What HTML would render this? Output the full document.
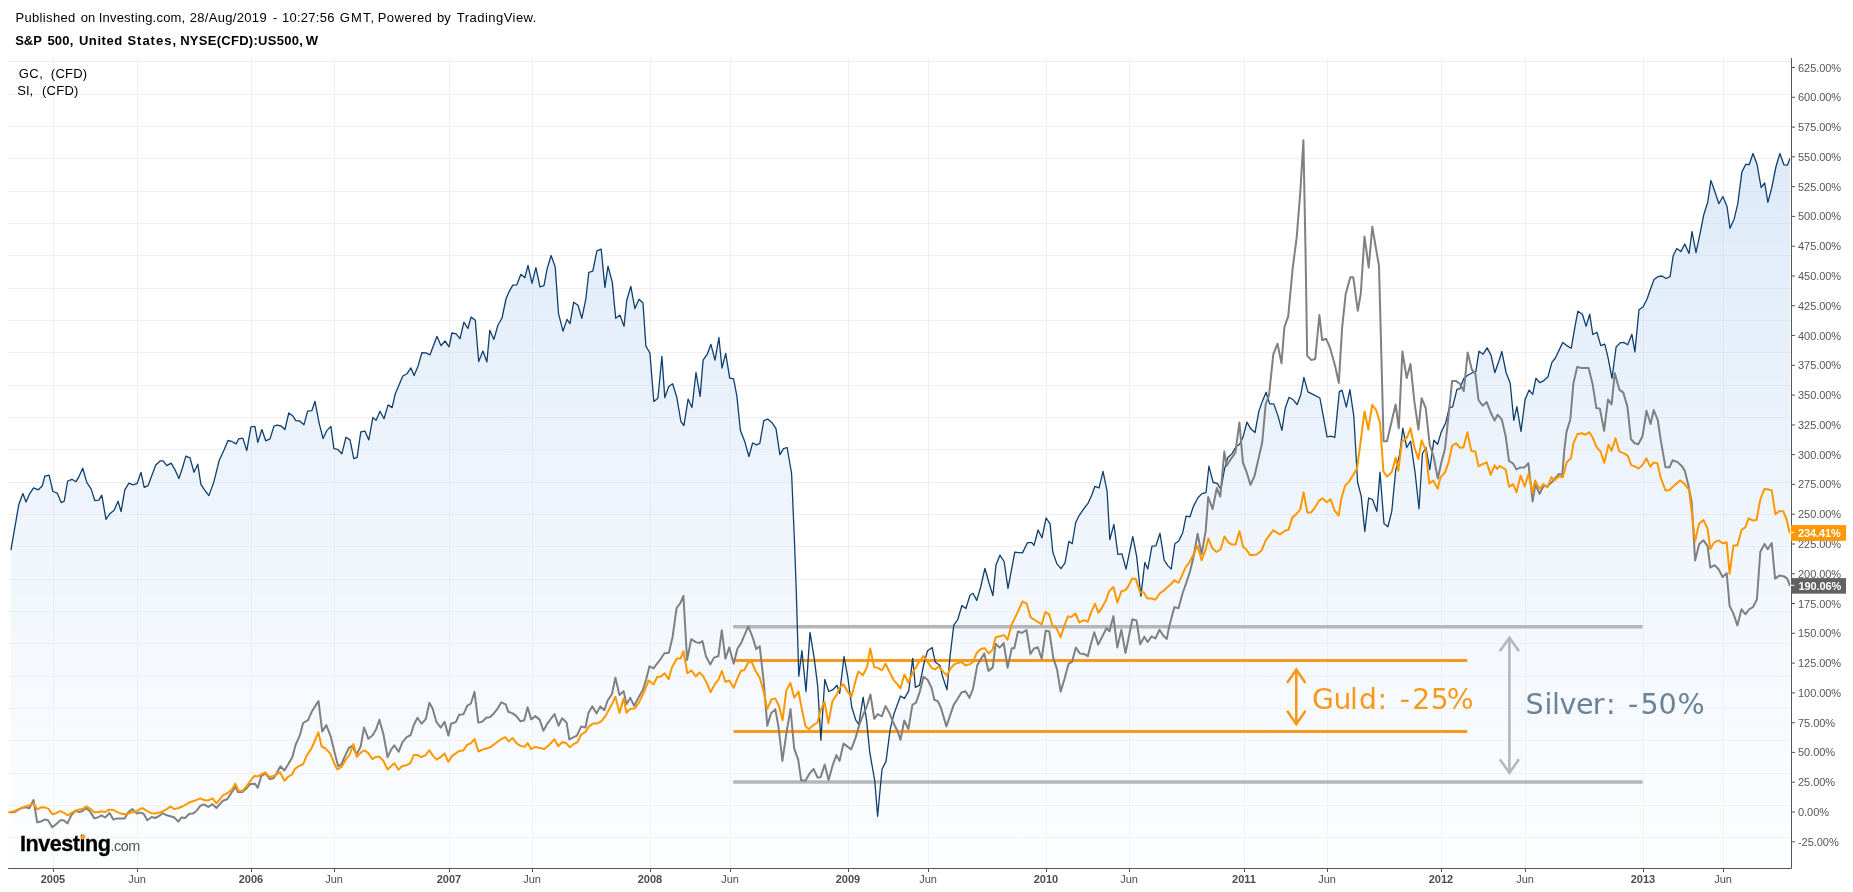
<!DOCTYPE html>
<html><head><meta charset="utf-8"><title>S&amp;P 500 vs Gold vs Silver</title>
<style>
html,body{margin:0;padding:0;background:#fff;}
body{width:1853px;height:892px;position:relative;overflow:hidden;font-family:"Liberation Sans",Arial,sans-serif;}
#wrap{position:absolute;left:0;top:0;width:1853px;height:892px;will-change:transform;}
.h1,.h2{position:absolute;white-space:pre;color:#000;font-size:13px;}
.h1 span,.h2 span{display:inline-block;white-space:pre;overflow:visible;}
.h1{top:10.1px;left:15.50px;}
.h2{top:33.1px;left:15.20px;font-weight:bold;}
.leg{position:absolute;font-size:13px;color:#000;white-space:pre;}
.logo{position:absolute;left:20.1px;top:832.2px;white-space:pre;line-height:24px;}
.logo b{font-size:21.6px;font-weight:bold;color:#000;letter-spacing:-0.5px;-webkit-text-stroke:0.3px #000;}
.logo i{font-style:normal;font-size:14.5px;color:#555;letter-spacing:-0.5px;}
</style></head><body><div id="wrap">
<div class="h1"><span style="width:65.30px;letter-spacing:0.33px">Published </span><span style="width:17.90px;letter-spacing:0px">on </span><span style="width:91.00px;letter-spacing:0.21px">Investing.com, </span><span style="width:83.30px;letter-spacing:0.32px">28/Aug/2019 </span><span style="width:9.10px;letter-spacing:0px">- </span><span style="width:57.70px;letter-spacing:0.24px">10:27:56 </span><span style="width:37.90px;letter-spacing:1.1px">GMT, </span><span style="width:59.30px;letter-spacing:0.48px">Powered </span><span style="width:19.90px;letter-spacing:0px">by </span><span style="letter-spacing:0.46px">TradingView.</span></div>
<div class="h2"><span style="width:32.20px;letter-spacing:0px">S&amp;P </span><span style="width:31.50px;letter-spacing:0.25px">500, </span><span style="width:48.50px;letter-spacing:0.6px">United </span><span style="width:52.80px;letter-spacing:1.0px">States, </span><span style="width:125.70px;letter-spacing:0.28px">NYSE(CFD):US500, </span><span style="letter-spacing:0.5px">W</span></div>
<svg width="1853" height="892" viewBox="0 0 1853 892" style="position:absolute;left:0;top:0"><defs><linearGradient id="fg" x1="0" y1="58" x2="0" y2="868" gradientUnits="userSpaceOnUse"><stop offset="0" stop-color="#005fcd" stop-opacity="0.15"/><stop offset="0.607" stop-color="#005fcd" stop-opacity="0.056"/><stop offset="1" stop-color="#005fcd" stop-opacity="0.01"/></linearGradient><clipPath id="pane"><rect x="8" y="58" width="1782" height="810"/></clipPath></defs><path d="M8 61.5H1790.5 M8 94.5H1790.5 M8 126.5H1790.5 M8 158.5H1790.5 M8 191.5H1790.5 M8 223.5H1790.5 M8 255.5H1790.5 M8 288.5H1790.5 M8 320.5H1790.5 M8 352.5H1790.5 M8 385.5H1790.5 M8 417.5H1790.5 M8 449.5H1790.5 M8 482.5H1790.5 M8 514.5H1790.5 M8 546.5H1790.5 M8 579.5H1790.5 M8 611.5H1790.5 M8 643.5H1790.5 M8 676.5H1790.5 M8 708.5H1790.5 M8 740.5H1790.5 M8 773.5H1790.5 M8 805.5H1790.5 M8 837.5H1790.5 M53.5 58V868.5 M137.5 58V868.5 M251.5 58V868.5 M334.5 58V868.5 M449.5 58V868.5 M532.5 58V868.5 M650.5 58V868.5 M730.5 58V868.5 M848.5 58V868.5 M928.5 58V868.5 M1046.5 58V868.5 M1129.5 58V868.5 M1244.5 58V868.5 M1327.5 58V868.5 M1441.5 58V868.5 M1525.5 58V868.5 M1643.5 58V868.5 M1723.5 58V868.5" stroke="#efefef" stroke-width="1" fill="none" shape-rendering="crispEdges"/><polygon points="11.0,868.5 11.0,549.6 18.8,504.6 22.9,493.5 26.0,501.9 29.6,493.8 33.6,487.8 38.3,489.8 42.4,485.7 44.8,476.1 49.1,475.2 52.9,491.5 57.2,493.1 61.2,502.6 64.2,501.2 67.7,481.0 72.0,479.3 76.0,481.7 78.4,477.7 82.7,468.3 86.8,482.4 91.2,489.1 94.8,500.5 98.9,500.1 101.8,495.2 106.0,519.4 109.6,514.0 114.1,510.2 118.0,501.2 121.1,511.6 124.8,489.8 128.9,483.1 133.2,484.8 137.2,483.3 141.0,472.3 144.2,487.4 148.0,485.7 152.0,475.0 155.8,464.9 160.1,460.9 163.1,460.9 166.8,465.6 171.1,463.1 174.9,469.6 178.9,478.6 182.3,468.3 185.9,456.1 190.0,457.9 194.0,472.3 197.8,464.2 200.9,484.4 204.5,489.8 208.9,495.6 213.9,481.7 219.3,460.2 224.0,450.1 228.0,440.5 231.4,441.3 236.1,443.9 238.7,438.8 242.8,438.1 246.8,450.6 250.9,426.8 254.9,426.4 257.8,442.3 261.9,429.5 265.7,440.8 270.0,438.9 274.0,426.0 277.1,425.1 281.1,426.0 284.9,429.5 288.8,413.0 292.6,415.7 295.9,420.6 299.7,421.0 304.0,424.7 307.6,411.2 311.8,410.7 315.0,401.3 319.1,423.1 323.1,438.5 326.6,430.9 330.9,426.4 333.9,448.6 337.6,449.3 341.9,453.7 346.0,437.2 350.0,439.9 353.8,458.7 357.1,457.4 360.8,431.8 364.9,431.1 368.8,439.9 372.9,417.4 376.0,420.4 380.0,411.2 384.0,418.7 388.1,404.9 392.1,407.6 395.2,394.1 402.8,376.0 407.1,373.7 410.9,367.9 414.1,375.6 418.1,365.9 421.9,352.7 425.9,352.9 430.0,354.8 437.0,336.3 441.0,345.7 445.0,341.0 449.1,346.8 451.9,333.0 456.2,333.9 460.0,338.7 463.9,322.2 467.9,328.5 471.0,317.1 475.3,320.2 478.7,361.5 482.9,351.1 486.9,361.9 489.8,330.3 493.9,339.4 497.9,325.2 502.0,318.0 506.1,298.5 509.4,291.1 512.8,285.1 516.8,284.8 520.9,274.3 524.9,277.7 528.0,265.3 532.0,283.3 535.9,267.6 540.0,286.8 544.0,285.7 547.1,268.9 551.1,255.5 555.2,266.9 558.5,313.3 563.0,331.2 567.0,319.4 570.0,323.7 573.7,302.2 578.0,305.3 581.8,318.3 585.8,299.2 588.8,272.3 592.8,271.2 596.9,250.8 601.2,249.1 604.9,287.4 608.0,266.2 612.3,282.4 615.7,318.3 620.0,315.1 624.0,326.4 626.7,300.5 630.8,286.4 634.9,308.6 639.0,299.2 643.0,303.0 645.9,346.1 649.9,353.0 653.8,401.4 657.9,398.2 661.9,356.5 664.8,397.6 668.7,386.5 672.6,383.8 676.8,397.3 680.9,421.5 683.9,425.6 688.1,399.1 692.0,407.5 696.0,372.5 700.1,396.4 703.1,360.1 707.3,354.2 710.9,344.3 715.0,360.1 718.9,337.5 722.0,368.0 725.7,353.3 729.7,378.1 733.6,378.8 736.9,396.4 740.4,430.4 744.9,442.1 748.9,456.5 752.6,443.0 756.6,444.8 759.8,443.4 763.8,420.6 767.7,419.1 771.8,422.4 776.0,428.7 779.9,454.7 783.5,448.7 787.1,447.5 791.6,473.5 794.6,544.7 796.2,589.1 798.8,676.2 801.9,650.6 806.0,691.5 810.0,632.3 814.1,657.4 817.7,686.1 820.9,740.3 824.8,679.5 828.8,691.5 832.9,689.7 837.0,685.2 839.7,693.3 844.0,656.5 847.8,677.1 851.8,707.3 855.7,719.8 858.8,724.5 863.1,697.1 866.7,721.4 869.8,752.7 874.8,781.0 877.6,816.3 882.0,769.2 886.0,761.4 890.2,729.2 894.1,713.5 900.5,696.0 904.5,698.4 908.8,690.6 912.7,658.3 915.4,687.4 919.6,685.2 923.5,665.5 927.4,651.1 932.1,647.5 935.2,661.9 940.0,665.5 942.5,676.3 947.0,689.8 950.2,654.8 953.8,625.2 957.8,619.5 961.9,605.5 965.9,608.5 970.0,595.2 973.0,593.3 976.8,600.4 980.7,587.0 984.9,568.3 988.8,582.2 992.9,595.6 996.0,565.1 999.9,555.2 1004.1,561.5 1008.0,588.4 1014.8,552.2 1022.5,552.9 1027.4,542.7 1031.9,542.7 1034.0,545.4 1038.1,530.0 1042.0,537.8 1046.1,518.0 1050.1,523.9 1052.8,552.1 1056.9,563.8 1061.0,568.6 1065.0,562.9 1068.9,541.3 1072.2,543.7 1075.7,522.5 1079.3,515.3 1083.5,509.1 1088.3,502.8 1091.9,494.7 1094.9,486.3 1099.1,487.9 1103.0,471.4 1107.1,491.1 1109.8,539.6 1113.9,524.3 1117.9,554.4 1122.0,553.9 1126.0,569.1 1132.8,536.5 1136.7,556.6 1140.9,596.1 1144.8,562.5 1147.8,569.1 1152.0,546.2 1155.9,545.8 1160.0,533.3 1164.2,560.2 1167.8,565.6 1171.2,569.1 1174.9,543.7 1178.9,540.8 1182.8,532.4 1186.1,516.2 1190.0,516.8 1193.1,507.1 1197.9,497.8 1202.0,493.6 1206.0,492.7 1208.9,466.2 1213.2,482.5 1217.3,483.4 1220.9,489.5 1224.5,469.1 1227.7,457.8 1232.0,453.6 1236.1,446.5 1239.7,444.3 1243.3,436.2 1246.9,422.2 1251.0,429.1 1255.0,432.6 1258.9,411.1 1262.5,400.9 1266.1,392.3 1269.7,403.9 1273.8,403.9 1277.9,415.6 1281.9,430.3 1285.1,408.8 1289.0,397.3 1293.2,399.8 1297.1,404.5 1300.7,395.0 1303.9,377.4 1307.9,391.9 1312.4,394.1 1319.9,398.0 1323.5,417.4 1327.1,436.8 1331.2,436.2 1334.8,437.5 1339.3,391.9 1342.0,390.1 1346.3,407.1 1349.9,389.6 1353.8,416.1 1357.6,482.0 1361.2,496.1 1364.8,531.5 1368.6,498.0 1372.7,499.7 1376.9,511.5 1380.0,472.1 1384.0,523.6 1387.9,526.8 1391.8,511.1 1395.7,470.2 1399.7,453.8 1402.8,428.2 1406.7,447.5 1410.6,441.2 1415.0,471.8 1419.0,508.7 1422.4,453.8 1426.0,447.5 1429.8,469.5 1433.9,440.1 1437.6,444.3 1441.3,431.9 1445.5,423.3 1449.4,407.5 1452.6,406.8 1457.0,389.2 1459.8,388.8 1463.8,378.4 1467.7,375.2 1471.8,373.0 1475.8,371.6 1479.0,351.2 1483.1,354.2 1487.1,347.9 1491.0,355.1 1494.8,372.7 1500.0,357.8 1501.8,351.3 1506.1,372.5 1510.2,383.3 1513.8,420.4 1516.9,406.6 1521.0,431.3 1525.1,399.4 1529.1,390.1 1532.7,394.4 1535.9,378.3 1539.8,382.7 1543.8,380.6 1547.9,377.0 1552.0,362.1 1555.1,358.5 1562.8,342.4 1566.7,345.6 1571.2,348.3 1574.8,327.7 1577.9,311.2 1582.4,314.2 1586.1,326.4 1589.7,314.2 1592.8,334.5 1596.9,332.2 1600.8,345.6 1604.8,344.2 1608.0,357.3 1612.0,378.3 1616.1,347.0 1620.2,342.9 1623.8,342.4 1627.7,344.7 1631.9,334.3 1634.9,351.9 1639.0,309.7 1643.0,307.0 1647.1,299.0 1649.9,290.7 1654.0,279.6 1657.9,276.7 1661.9,276.0 1666.0,278.5 1670.1,276.7 1673.2,255.7 1676.8,248.5 1680.9,251.6 1684.8,244.0 1689.0,253.4 1692.0,231.5 1696.0,252.6 1700.1,233.3 1703.7,215.0 1707.8,201.9 1710.9,180.4 1715.0,192.0 1718.9,203.7 1722.9,196.5 1727.0,206.4 1730.0,228.3 1734.2,218.9 1737.8,203.7 1741.9,171.9 1745.8,164.2 1749.1,164.8 1753.0,153.5 1757.0,164.2 1761.1,187.5 1764.7,183.0 1767.9,202.4 1771.8,187.5 1776.0,166.5 1779.9,153.5 1783.9,164.8 1787.4,165.1 1790.0,158.5 1790.0,868.5" fill="#fff" fill-opacity="0.4" clip-path="url(#pane)"/><polygon points="11.0,868.5 11.0,549.6 18.8,504.6 22.9,493.5 26.0,501.9 29.6,493.8 33.6,487.8 38.3,489.8 42.4,485.7 44.8,476.1 49.1,475.2 52.9,491.5 57.2,493.1 61.2,502.6 64.2,501.2 67.7,481.0 72.0,479.3 76.0,481.7 78.4,477.7 82.7,468.3 86.8,482.4 91.2,489.1 94.8,500.5 98.9,500.1 101.8,495.2 106.0,519.4 109.6,514.0 114.1,510.2 118.0,501.2 121.1,511.6 124.8,489.8 128.9,483.1 133.2,484.8 137.2,483.3 141.0,472.3 144.2,487.4 148.0,485.7 152.0,475.0 155.8,464.9 160.1,460.9 163.1,460.9 166.8,465.6 171.1,463.1 174.9,469.6 178.9,478.6 182.3,468.3 185.9,456.1 190.0,457.9 194.0,472.3 197.8,464.2 200.9,484.4 204.5,489.8 208.9,495.6 213.9,481.7 219.3,460.2 224.0,450.1 228.0,440.5 231.4,441.3 236.1,443.9 238.7,438.8 242.8,438.1 246.8,450.6 250.9,426.8 254.9,426.4 257.8,442.3 261.9,429.5 265.7,440.8 270.0,438.9 274.0,426.0 277.1,425.1 281.1,426.0 284.9,429.5 288.8,413.0 292.6,415.7 295.9,420.6 299.7,421.0 304.0,424.7 307.6,411.2 311.8,410.7 315.0,401.3 319.1,423.1 323.1,438.5 326.6,430.9 330.9,426.4 333.9,448.6 337.6,449.3 341.9,453.7 346.0,437.2 350.0,439.9 353.8,458.7 357.1,457.4 360.8,431.8 364.9,431.1 368.8,439.9 372.9,417.4 376.0,420.4 380.0,411.2 384.0,418.7 388.1,404.9 392.1,407.6 395.2,394.1 402.8,376.0 407.1,373.7 410.9,367.9 414.1,375.6 418.1,365.9 421.9,352.7 425.9,352.9 430.0,354.8 437.0,336.3 441.0,345.7 445.0,341.0 449.1,346.8 451.9,333.0 456.2,333.9 460.0,338.7 463.9,322.2 467.9,328.5 471.0,317.1 475.3,320.2 478.7,361.5 482.9,351.1 486.9,361.9 489.8,330.3 493.9,339.4 497.9,325.2 502.0,318.0 506.1,298.5 509.4,291.1 512.8,285.1 516.8,284.8 520.9,274.3 524.9,277.7 528.0,265.3 532.0,283.3 535.9,267.6 540.0,286.8 544.0,285.7 547.1,268.9 551.1,255.5 555.2,266.9 558.5,313.3 563.0,331.2 567.0,319.4 570.0,323.7 573.7,302.2 578.0,305.3 581.8,318.3 585.8,299.2 588.8,272.3 592.8,271.2 596.9,250.8 601.2,249.1 604.9,287.4 608.0,266.2 612.3,282.4 615.7,318.3 620.0,315.1 624.0,326.4 626.7,300.5 630.8,286.4 634.9,308.6 639.0,299.2 643.0,303.0 645.9,346.1 649.9,353.0 653.8,401.4 657.9,398.2 661.9,356.5 664.8,397.6 668.7,386.5 672.6,383.8 676.8,397.3 680.9,421.5 683.9,425.6 688.1,399.1 692.0,407.5 696.0,372.5 700.1,396.4 703.1,360.1 707.3,354.2 710.9,344.3 715.0,360.1 718.9,337.5 722.0,368.0 725.7,353.3 729.7,378.1 733.6,378.8 736.9,396.4 740.4,430.4 744.9,442.1 748.9,456.5 752.6,443.0 756.6,444.8 759.8,443.4 763.8,420.6 767.7,419.1 771.8,422.4 776.0,428.7 779.9,454.7 783.5,448.7 787.1,447.5 791.6,473.5 794.6,544.7 796.2,589.1 798.8,676.2 801.9,650.6 806.0,691.5 810.0,632.3 814.1,657.4 817.7,686.1 820.9,740.3 824.8,679.5 828.8,691.5 832.9,689.7 837.0,685.2 839.7,693.3 844.0,656.5 847.8,677.1 851.8,707.3 855.7,719.8 858.8,724.5 863.1,697.1 866.7,721.4 869.8,752.7 874.8,781.0 877.6,816.3 882.0,769.2 886.0,761.4 890.2,729.2 894.1,713.5 900.5,696.0 904.5,698.4 908.8,690.6 912.7,658.3 915.4,687.4 919.6,685.2 923.5,665.5 927.4,651.1 932.1,647.5 935.2,661.9 940.0,665.5 942.5,676.3 947.0,689.8 950.2,654.8 953.8,625.2 957.8,619.5 961.9,605.5 965.9,608.5 970.0,595.2 973.0,593.3 976.8,600.4 980.7,587.0 984.9,568.3 988.8,582.2 992.9,595.6 996.0,565.1 999.9,555.2 1004.1,561.5 1008.0,588.4 1014.8,552.2 1022.5,552.9 1027.4,542.7 1031.9,542.7 1034.0,545.4 1038.1,530.0 1042.0,537.8 1046.1,518.0 1050.1,523.9 1052.8,552.1 1056.9,563.8 1061.0,568.6 1065.0,562.9 1068.9,541.3 1072.2,543.7 1075.7,522.5 1079.3,515.3 1083.5,509.1 1088.3,502.8 1091.9,494.7 1094.9,486.3 1099.1,487.9 1103.0,471.4 1107.1,491.1 1109.8,539.6 1113.9,524.3 1117.9,554.4 1122.0,553.9 1126.0,569.1 1132.8,536.5 1136.7,556.6 1140.9,596.1 1144.8,562.5 1147.8,569.1 1152.0,546.2 1155.9,545.8 1160.0,533.3 1164.2,560.2 1167.8,565.6 1171.2,569.1 1174.9,543.7 1178.9,540.8 1182.8,532.4 1186.1,516.2 1190.0,516.8 1193.1,507.1 1197.9,497.8 1202.0,493.6 1206.0,492.7 1208.9,466.2 1213.2,482.5 1217.3,483.4 1220.9,489.5 1224.5,469.1 1227.7,457.8 1232.0,453.6 1236.1,446.5 1239.7,444.3 1243.3,436.2 1246.9,422.2 1251.0,429.1 1255.0,432.6 1258.9,411.1 1262.5,400.9 1266.1,392.3 1269.7,403.9 1273.8,403.9 1277.9,415.6 1281.9,430.3 1285.1,408.8 1289.0,397.3 1293.2,399.8 1297.1,404.5 1300.7,395.0 1303.9,377.4 1307.9,391.9 1312.4,394.1 1319.9,398.0 1323.5,417.4 1327.1,436.8 1331.2,436.2 1334.8,437.5 1339.3,391.9 1342.0,390.1 1346.3,407.1 1349.9,389.6 1353.8,416.1 1357.6,482.0 1361.2,496.1 1364.8,531.5 1368.6,498.0 1372.7,499.7 1376.9,511.5 1380.0,472.1 1384.0,523.6 1387.9,526.8 1391.8,511.1 1395.7,470.2 1399.7,453.8 1402.8,428.2 1406.7,447.5 1410.6,441.2 1415.0,471.8 1419.0,508.7 1422.4,453.8 1426.0,447.5 1429.8,469.5 1433.9,440.1 1437.6,444.3 1441.3,431.9 1445.5,423.3 1449.4,407.5 1452.6,406.8 1457.0,389.2 1459.8,388.8 1463.8,378.4 1467.7,375.2 1471.8,373.0 1475.8,371.6 1479.0,351.2 1483.1,354.2 1487.1,347.9 1491.0,355.1 1494.8,372.7 1500.0,357.8 1501.8,351.3 1506.1,372.5 1510.2,383.3 1513.8,420.4 1516.9,406.6 1521.0,431.3 1525.1,399.4 1529.1,390.1 1532.7,394.4 1535.9,378.3 1539.8,382.7 1543.8,380.6 1547.9,377.0 1552.0,362.1 1555.1,358.5 1562.8,342.4 1566.7,345.6 1571.2,348.3 1574.8,327.7 1577.9,311.2 1582.4,314.2 1586.1,326.4 1589.7,314.2 1592.8,334.5 1596.9,332.2 1600.8,345.6 1604.8,344.2 1608.0,357.3 1612.0,378.3 1616.1,347.0 1620.2,342.9 1623.8,342.4 1627.7,344.7 1631.9,334.3 1634.9,351.9 1639.0,309.7 1643.0,307.0 1647.1,299.0 1649.9,290.7 1654.0,279.6 1657.9,276.7 1661.9,276.0 1666.0,278.5 1670.1,276.7 1673.2,255.7 1676.8,248.5 1680.9,251.6 1684.8,244.0 1689.0,253.4 1692.0,231.5 1696.0,252.6 1700.1,233.3 1703.7,215.0 1707.8,201.9 1710.9,180.4 1715.0,192.0 1718.9,203.7 1722.9,196.5 1727.0,206.4 1730.0,228.3 1734.2,218.9 1737.8,203.7 1741.9,171.9 1745.8,164.2 1749.1,164.8 1753.0,153.5 1757.0,164.2 1761.1,187.5 1764.7,183.0 1767.9,202.4 1771.8,187.5 1776.0,166.5 1779.9,153.5 1783.9,164.8 1787.4,165.1 1790.0,158.5 1790.0,868.5" fill="url(#fg)" clip-path="url(#pane)"/><g stroke-width="3" stroke-linecap="butt"><line x1="733.2" y1="626.8" x2="1642.5" y2="626.8" stroke="#b3b6ba" stroke-width="3.5"/><line x1="733.2" y1="782.0" x2="1642.5" y2="782.0" stroke="#b3b6ba" stroke-width="3.5"/><line x1="733.6" y1="660.4" x2="1467.3" y2="660.4" stroke="#f7991c"/><line x1="733.6" y1="731.5" x2="1467.3" y2="731.5" stroke="#f7991c"/></g><g clip-path="url(#pane)" fill="none" stroke-linejoin="round" stroke-linecap="round"><polyline points="11.0,549.6 18.8,504.6 22.9,493.5 26.0,501.9 29.6,493.8 33.6,487.8 38.3,489.8 42.4,485.7 44.8,476.1 49.1,475.2 52.9,491.5 57.2,493.1 61.2,502.6 64.2,501.2 67.7,481.0 72.0,479.3 76.0,481.7 78.4,477.7 82.7,468.3 86.8,482.4 91.2,489.1 94.8,500.5 98.9,500.1 101.8,495.2 106.0,519.4 109.6,514.0 114.1,510.2 118.0,501.2 121.1,511.6 124.8,489.8 128.9,483.1 133.2,484.8 137.2,483.3 141.0,472.3 144.2,487.4 148.0,485.7 152.0,475.0 155.8,464.9 160.1,460.9 163.1,460.9 166.8,465.6 171.1,463.1 174.9,469.6 178.9,478.6 182.3,468.3 185.9,456.1 190.0,457.9 194.0,472.3 197.8,464.2 200.9,484.4 204.5,489.8 208.9,495.6 213.9,481.7 219.3,460.2 224.0,450.1 228.0,440.5 231.4,441.3 236.1,443.9 238.7,438.8 242.8,438.1 246.8,450.6 250.9,426.8 254.9,426.4 257.8,442.3 261.9,429.5 265.7,440.8 270.0,438.9 274.0,426.0 277.1,425.1 281.1,426.0 284.9,429.5 288.8,413.0 292.6,415.7 295.9,420.6 299.7,421.0 304.0,424.7 307.6,411.2 311.8,410.7 315.0,401.3 319.1,423.1 323.1,438.5 326.6,430.9 330.9,426.4 333.9,448.6 337.6,449.3 341.9,453.7 346.0,437.2 350.0,439.9 353.8,458.7 357.1,457.4 360.8,431.8 364.9,431.1 368.8,439.9 372.9,417.4 376.0,420.4 380.0,411.2 384.0,418.7 388.1,404.9 392.1,407.6 395.2,394.1 402.8,376.0 407.1,373.7 410.9,367.9 414.1,375.6 418.1,365.9 421.9,352.7 425.9,352.9 430.0,354.8 437.0,336.3 441.0,345.7 445.0,341.0 449.1,346.8 451.9,333.0 456.2,333.9 460.0,338.7 463.9,322.2 467.9,328.5 471.0,317.1 475.3,320.2 478.7,361.5 482.9,351.1 486.9,361.9 489.8,330.3 493.9,339.4 497.9,325.2 502.0,318.0 506.1,298.5 509.4,291.1 512.8,285.1 516.8,284.8 520.9,274.3 524.9,277.7 528.0,265.3 532.0,283.3 535.9,267.6 540.0,286.8 544.0,285.7 547.1,268.9 551.1,255.5 555.2,266.9 558.5,313.3 563.0,331.2 567.0,319.4 570.0,323.7 573.7,302.2 578.0,305.3 581.8,318.3 585.8,299.2 588.8,272.3 592.8,271.2 596.9,250.8 601.2,249.1 604.9,287.4 608.0,266.2 612.3,282.4 615.7,318.3 620.0,315.1 624.0,326.4 626.7,300.5 630.8,286.4 634.9,308.6 639.0,299.2 643.0,303.0 645.9,346.1 649.9,353.0 653.8,401.4 657.9,398.2 661.9,356.5 664.8,397.6 668.7,386.5 672.6,383.8 676.8,397.3 680.9,421.5 683.9,425.6 688.1,399.1 692.0,407.5 696.0,372.5 700.1,396.4 703.1,360.1 707.3,354.2 710.9,344.3 715.0,360.1 718.9,337.5 722.0,368.0 725.7,353.3 729.7,378.1 733.6,378.8 736.9,396.4 740.4,430.4 744.9,442.1 748.9,456.5 752.6,443.0 756.6,444.8 759.8,443.4 763.8,420.6 767.7,419.1 771.8,422.4 776.0,428.7 779.9,454.7 783.5,448.7 787.1,447.5 791.6,473.5 794.6,544.7 796.2,589.1 798.8,676.2 801.9,650.6 806.0,691.5 810.0,632.3 814.1,657.4 817.7,686.1 820.9,740.3 824.8,679.5 828.8,691.5 832.9,689.7 837.0,685.2 839.7,693.3 844.0,656.5 847.8,677.1 851.8,707.3 855.7,719.8 858.8,724.5 863.1,697.1 866.7,721.4 869.8,752.7 874.8,781.0 877.6,816.3 882.0,769.2 886.0,761.4 890.2,729.2 894.1,713.5 900.5,696.0 904.5,698.4 908.8,690.6 912.7,658.3 915.4,687.4 919.6,685.2 923.5,665.5 927.4,651.1 932.1,647.5 935.2,661.9 940.0,665.5 942.5,676.3 947.0,689.8 950.2,654.8 953.8,625.2 957.8,619.5 961.9,605.5 965.9,608.5 970.0,595.2 973.0,593.3 976.8,600.4 980.7,587.0 984.9,568.3 988.8,582.2 992.9,595.6 996.0,565.1 999.9,555.2 1004.1,561.5 1008.0,588.4 1014.8,552.2 1022.5,552.9 1027.4,542.7 1031.9,542.7 1034.0,545.4 1038.1,530.0 1042.0,537.8 1046.1,518.0 1050.1,523.9 1052.8,552.1 1056.9,563.8 1061.0,568.6 1065.0,562.9 1068.9,541.3 1072.2,543.7 1075.7,522.5 1079.3,515.3 1083.5,509.1 1088.3,502.8 1091.9,494.7 1094.9,486.3 1099.1,487.9 1103.0,471.4 1107.1,491.1 1109.8,539.6 1113.9,524.3 1117.9,554.4 1122.0,553.9 1126.0,569.1 1132.8,536.5 1136.7,556.6 1140.9,596.1 1144.8,562.5 1147.8,569.1 1152.0,546.2 1155.9,545.8 1160.0,533.3 1164.2,560.2 1167.8,565.6 1171.2,569.1 1174.9,543.7 1178.9,540.8 1182.8,532.4 1186.1,516.2 1190.0,516.8 1193.1,507.1 1197.9,497.8 1202.0,493.6 1206.0,492.7 1208.9,466.2 1213.2,482.5 1217.3,483.4 1220.9,489.5 1224.5,469.1 1227.7,457.8 1232.0,453.6 1236.1,446.5 1239.7,444.3 1243.3,436.2 1246.9,422.2 1251.0,429.1 1255.0,432.6 1258.9,411.1 1262.5,400.9 1266.1,392.3 1269.7,403.9 1273.8,403.9 1277.9,415.6 1281.9,430.3 1285.1,408.8 1289.0,397.3 1293.2,399.8 1297.1,404.5 1300.7,395.0 1303.9,377.4 1307.9,391.9 1312.4,394.1 1319.9,398.0 1323.5,417.4 1327.1,436.8 1331.2,436.2 1334.8,437.5 1339.3,391.9 1342.0,390.1 1346.3,407.1 1349.9,389.6 1353.8,416.1 1357.6,482.0 1361.2,496.1 1364.8,531.5 1368.6,498.0 1372.7,499.7 1376.9,511.5 1380.0,472.1 1384.0,523.6 1387.9,526.8 1391.8,511.1 1395.7,470.2 1399.7,453.8 1402.8,428.2 1406.7,447.5 1410.6,441.2 1415.0,471.8 1419.0,508.7 1422.4,453.8 1426.0,447.5 1429.8,469.5 1433.9,440.1 1437.6,444.3 1441.3,431.9 1445.5,423.3 1449.4,407.5 1452.6,406.8 1457.0,389.2 1459.8,388.8 1463.8,378.4 1467.7,375.2 1471.8,373.0 1475.8,371.6 1479.0,351.2 1483.1,354.2 1487.1,347.9 1491.0,355.1 1494.8,372.7 1500.0,357.8 1501.8,351.3 1506.1,372.5 1510.2,383.3 1513.8,420.4 1516.9,406.6 1521.0,431.3 1525.1,399.4 1529.1,390.1 1532.7,394.4 1535.9,378.3 1539.8,382.7 1543.8,380.6 1547.9,377.0 1552.0,362.1 1555.1,358.5 1562.8,342.4 1566.7,345.6 1571.2,348.3 1574.8,327.7 1577.9,311.2 1582.4,314.2 1586.1,326.4 1589.7,314.2 1592.8,334.5 1596.9,332.2 1600.8,345.6 1604.8,344.2 1608.0,357.3 1612.0,378.3 1616.1,347.0 1620.2,342.9 1623.8,342.4 1627.7,344.7 1631.9,334.3 1634.9,351.9 1639.0,309.7 1643.0,307.0 1647.1,299.0 1649.9,290.7 1654.0,279.6 1657.9,276.7 1661.9,276.0 1666.0,278.5 1670.1,276.7 1673.2,255.7 1676.8,248.5 1680.9,251.6 1684.8,244.0 1689.0,253.4 1692.0,231.5 1696.0,252.6 1700.1,233.3 1703.7,215.0 1707.8,201.9 1710.9,180.4 1715.0,192.0 1718.9,203.7 1722.9,196.5 1727.0,206.4 1730.0,228.3 1734.2,218.9 1737.8,203.7 1741.9,171.9 1745.8,164.2 1749.1,164.8 1753.0,153.5 1757.0,164.2 1761.1,187.5 1764.7,183.0 1767.9,202.4 1771.8,187.5 1776.0,166.5 1779.9,153.5 1783.9,164.8 1787.4,165.1 1790.0,158.5" stroke="#0f3f6e" stroke-width="1.3"/><polyline points="9.5,812.3 14.0,812.3 18.3,809.7 22.1,807.8 25.9,807.2 29.4,808.3 33.5,800.0 37.2,822.3 41.0,821.6 44.3,819.6 48.0,820.2 52.3,827.2 56.7,823.8 60.4,820.2 63.7,820.2 67.5,823.4 71.2,815.3 75.6,810.8 79.3,812.1 82.6,811.0 86.3,808.3 90.1,811.6 94.4,818.4 97.7,817.5 101.5,815.3 105.2,817.5 109.6,813.0 113.3,819.6 117.1,818.4 120.9,818.6 124.7,818.4 128.4,812.1 132.5,809.1 136.5,813.4 140.3,812.6 143.6,813.7 147.3,820.2 151.6,817.0 155.4,818.0 159.2,815.9 162.4,813.2 166.8,815.3 170.5,816.2 174.3,817.5 178.3,821.6 181.3,817.5 185.1,818.0 189.4,813.7 193.2,813.4 196.4,811.0 200.3,805.8 204.0,804.4 208.3,806.9 212.5,804.2 216.4,808.0 222.9,800.7 227.2,799.3 231.6,792.5 235.3,786.9 238.0,792.1 242.3,792.1 246.7,788.2 250.4,783.9 254.8,783.7 257.8,787.8 261.2,776.3 265.3,773.4 269.9,779.1 273.6,778.3 276.3,774.0 280.4,766.2 284.4,770.5 288.2,764.3 292.3,757.2 295.6,744.8 300.1,734.6 303.1,723.0 308.0,720.2 311.7,711.8 315.0,706.4 318.5,701.0 322.2,731.6 326.3,725.1 330.6,736.1 334.4,751.8 338.2,766.3 341.4,764.2 345.2,755.6 349.0,747.8 352.2,745.8 356.5,754.5 360.6,746.7 364.1,727.5 368.4,738.8 372.7,735.3 376.0,729.6 379.4,719.7 383.5,734.5 387.6,757.2 391.1,749.6 394.3,745.3 398.6,751.8 402.4,742.4 406.7,737.2 410.7,735.0 413.7,725.3 417.5,717.8 421.5,723.7 425.8,719.1 429.4,702.7 432.6,708.6 436.4,721.9 440.7,727.7 444.5,721.9 448.5,735.6 451.0,723.7 455.8,722.1 459.1,714.8 463.4,714.3 467.2,705.9 470.9,703.5 474.5,691.9 478.3,722.6 482.3,721.6 486.6,717.6 489.8,717.2 493.8,713.4 497.6,708.6 501.3,702.3 505.7,704.3 508.3,711.8 512.1,713.1 515.9,715.6 520.4,721.3 524.3,720.2 527.6,707.3 531.2,719.4 535.3,716.1 539.6,719.6 543.4,730.7 547.7,723.1 554.5,714.0 558.5,725.8 562.1,718.3 566.6,722.6 569.3,739.3 576.9,735.6 581.2,726.4 585.5,727.5 588.4,712.9 592.3,706.2 596.6,713.4 600.3,706.4 604.4,710.2 607.6,700.5 612.0,694.0 615.4,677.8 619.5,695.1 623.6,691.1 626.5,704.3 630.3,697.8 634.1,705.9 638.4,697.8 642.7,690.2 646.0,680.0 649.5,666.3 653.5,668.4 657.8,662.7 659.4,660.8 664.5,653.2 668.8,652.8 672.5,637.5 676.6,608.0 680.5,602.8 683.4,595.9 687.1,660.1 691.2,639.2 695.8,642.1 699.5,643.0 702.4,641.1 706.0,656.4 710.4,664.4 714.0,657.6 718.4,656.1 721.8,630.2 725.4,658.6 729.3,647.4 733.7,663.7 737.4,648.8 741.0,643.3 744.7,634.6 748.3,626.5 752.4,636.7 756.3,649.1 759.7,646.2 763.6,680.5 767.3,725.8 771.0,713.4 775.3,709.1 778.4,726.4 782.4,760.9 786.4,733.2 790.5,709.1 794.2,748.6 798.2,759.7 801.2,780.6 805.6,780.6 809.3,773.9 813.6,768.9 817.6,777.6 820.6,777.3 824.7,764.6 828.6,780.0 832.7,765.2 836.4,755.1 839.5,760.9 843.5,743.6 851.2,749.4 855.5,738.1 859.8,723.3 863.5,714.0 867.0,705.8 870.4,694.5 874.3,718.8 877.7,714.1 881.8,716.3 885.5,706.0 889.4,713.0 893.0,722.0 897.5,731.0 900.5,739.9 904.3,720.5 908.4,729.1 912.4,704.9 916.0,702.7 919.6,692.4 923.5,676.8 927.6,679.8 931.6,687.9 934.4,699.9 937.9,701.2 941.0,708.0 946.4,726.4 953.7,704.9 957.5,699.0 961.5,692.5 965.5,691.2 969.4,697.8 973.0,688.9 977.2,665.6 980.7,659.3 984.3,653.4 988.5,670.9 992.8,667.4 995.6,643.7 999.6,647.6 1003.7,643.1 1007.6,667.7 1011.8,648.2 1014.3,648.2 1018.0,631.5 1022.0,632.9 1026.5,630.0 1030.4,653.9 1034.0,648.5 1037.8,647.3 1041.7,658.7 1045.7,630.6 1049.3,631.5 1053.4,658.4 1057.0,669.1 1060.6,691.6 1064.5,679.0 1068.6,663.8 1072.2,661.6 1075.8,647.6 1079.9,653.5 1083.9,653.9 1087.8,656.2 1090.6,645.0 1094.3,632.2 1098.2,644.6 1102.4,636.3 1106.5,628.3 1109.5,631.4 1113.4,616.1 1117.3,647.5 1121.4,629.8 1125.5,653.0 1132.4,619.2 1136.5,620.4 1140.2,644.3 1144.3,636.7 1147.7,642.0 1151.6,636.3 1155.4,638.5 1159.5,629.8 1163.4,635.7 1166.8,638.9 1169.3,625.9 1174.4,607.1 1178.5,608.2 1182.5,593.5 1186.2,583.0 1189.9,571.9 1193.6,556.5 1197.6,533.7 1201.6,554.1 1205.7,530.9 1208.2,497.0 1212.6,509.1 1216.8,488.0 1220.3,496.6 1224.3,451.6 1226.7,465.8 1230.4,459.7 1235.4,452.6 1239.4,422.4 1242.9,462.7 1246.5,471.8 1250.5,484.9 1254.6,475.8 1262.2,442.5 1265.7,404.0 1269.0,395.5 1273.3,354.4 1277.5,343.7 1281.5,363.3 1284.4,327.1 1288.2,316.3 1292.6,269.0 1296.7,237.3 1300.4,190.5 1303.4,140.3 1305.5,250.0 1307.2,355.7 1311.4,360.1 1315.2,359.0 1319.4,315.0 1322.1,340.2 1326.1,338.7 1330.0,347.7 1335.1,365.9 1338.8,383.0 1342.1,328.1 1345.7,293.9 1350.3,277.3 1353.3,277.3 1357.8,310.8 1360.8,293.3 1364.5,236.4 1368.7,267.6 1372.3,226.8 1379.0,266.1 1383.6,441.2 1387.0,441.2 1395.6,404.4 1398.8,428.3 1402.4,351.5 1406.7,378.1 1410.5,364.1 1414.4,401.7 1418.4,429.6 1421.6,398.2 1425.7,408.0 1429.7,444.8 1433.6,456.5 1437.8,478.5 1441.3,462.7 1444.9,449.3 1448.5,416.1 1452.1,381.1 1456.2,381.1 1459.8,383.8 1463.8,391.0 1467.7,352.4 1471.8,369.5 1475.4,373.9 1478.5,400.0 1482.6,405.7 1486.7,402.1 1490.7,412.5 1494.6,420.6 1497.6,414.7 1501.8,419.5 1505.7,436.3 1509.0,461.0 1512.9,463.3 1516.5,469.4 1520.6,467.4 1524.4,467.4 1528.4,463.3 1532.6,501.4 1535.4,484.6 1539.6,493.9 1543.4,486.2 1547.7,486.0 1552.2,481.8 1558.7,474.1 1562.3,474.8 1564.3,450.4 1566.5,431.9 1570.3,419.5 1573.4,383.3 1577.2,367.1 1581.5,368.0 1588.6,368.0 1592.8,385.1 1596.3,408.0 1599.9,408.7 1604.1,430.9 1608.0,399.4 1611.6,404.4 1614.8,372.9 1619.3,389.6 1623.3,392.6 1627.4,406.6 1630.9,439.0 1634.4,443.0 1638.3,444.2 1642.5,436.2 1646.5,410.8 1650.6,424.0 1653.7,410.0 1657.8,420.2 1660.8,440.4 1665.5,467.3 1669.5,467.3 1672.6,460.3 1677.6,462.1 1681.6,465.9 1684.7,470.6 1688.3,484.7 1691.7,502.2 1695.1,560.4 1699.1,544.3 1703.5,540.3 1707.6,546.1 1710.3,567.6 1714.6,565.2 1718.6,569.2 1722.6,577.0 1726.7,573.2 1729.6,605.8 1733.4,613.6 1737.4,625.4 1741.5,609.3 1745.5,614.3 1748.9,609.5 1752.9,607.1 1756.9,599.5 1760.3,551.7 1764.6,543.9 1767.7,549.3 1771.7,543.0 1775.1,578.6 1779.4,575.6 1784.5,576.6 1787.2,578.6 1789.9,585.3" stroke="#808080" stroke-width="2"/><polyline points="9.5,812.3 14.0,811.2 18.3,809.4 22.1,807.8 25.9,806.2 29.7,805.1 33.5,803.5 37.2,809.4 41.6,807.2 45.3,807.6 48.6,808.9 52.3,814.3 56.1,813.2 60.4,811.2 63.7,812.6 67.5,815.3 71.2,813.2 75.6,810.8 79.3,809.4 82.6,809.1 86.3,806.5 90.1,808.6 94.4,812.3 97.7,812.3 101.5,811.2 105.2,812.1 109.0,809.7 112.8,809.7 117.1,812.1 120.9,813.4 125.2,814.3 129.0,813.2 132.8,812.3 136.0,811.6 140.9,808.3 143.6,808.6 147.3,811.2 151.1,813.2 155.4,813.4 159.2,812.6 163.0,811.2 166.8,809.1 170.3,806.5 174.3,809.1 178.6,808.0 182.4,806.5 186.2,804.3 190.0,802.2 194.3,800.8 200.3,798.3 204.0,800.1 208.3,800.4 212.5,798.3 216.4,803.3 222.9,795.3 227.2,793.2 231.6,789.9 235.3,783.7 238.6,790.7 242.3,791.0 246.1,786.9 249.9,781.5 254.2,775.9 258.0,776.3 261.8,774.2 265.3,772.3 269.3,777.0 273.6,775.9 276.9,774.0 280.1,772.3 284.4,780.7 288.2,776.7 292.0,774.5 295.2,768.6 299.0,766.2 303.3,764.0 306.6,755.6 311.4,748.6 315.2,740.0 318.4,732.4 321.7,746.8 325.5,748.3 330.3,753.7 334.1,763.2 337.3,769.4 341.6,767.0 345.4,760.2 349.7,754.5 353.5,744.0 356.8,756.9 360.5,752.9 364.3,750.2 368.1,752.9 372.4,759.1 375.1,757.2 378.9,756.5 383.2,760.5 387.5,769.4 391.6,765.8 394.3,763.3 398.4,769.6 402.4,766.1 406.2,765.3 410.5,763.1 413.7,755.0 417.5,755.0 421.5,757.2 425.8,755.0 429.4,750.2 432.9,755.6 436.6,759.7 440.7,757.2 444.5,753.4 448.3,761.8 452.0,756.1 455.8,753.4 459.1,751.0 463.4,750.4 467.2,744.8 470.9,743.1 474.5,739.1 478.5,751.5 482.3,749.6 486.6,748.5 490.4,747.1 494.3,744.2 500.8,739.3 505.4,737.2 508.6,741.5 512.5,737.9 516.4,743.1 520.2,745.8 524.5,746.9 527.6,743.1 531.0,749.0 535.3,746.9 539.6,748.0 544.5,749.0 548.8,745.3 554.5,739.3 558.2,746.3 562.1,742.2 566.1,743.1 569.7,747.2 573.6,744.2 577.4,742.2 581.2,734.5 585.5,731.8 589.1,726.4 593.1,723.5 596.9,723.5 601.2,721.3 605.0,716.7 608.2,711.3 611.4,705.3 615.4,696.7 619.5,712.9 623.6,698.6 626.5,712.7 630.3,708.8 634.6,708.6 638.9,702.6 643.3,693.5 648.7,680.5 653.5,684.6 657.3,676.7 660.5,676.7 664.6,673.2 668.6,679.2 671.9,667.6 676.9,658.6 680.5,658.6 683.4,651.3 687.4,673.2 691.4,670.3 695.8,676.5 699.5,672.5 703.1,676.1 706.7,683.0 710.7,692.1 714.8,684.1 718.4,679.8 721.8,671.0 725.4,681.9 729.3,680.5 733.7,687.8 737.4,678.3 741.0,670.7 744.2,670.3 748.3,662.3 751.9,662.3 755.6,671.0 759.7,677.6 763.6,691.4 767.2,709.0 771.6,699.4 775.3,698.4 778.9,706.0 782.6,720.2 786.3,690.6 790.4,682.9 794.3,697.8 798.5,691.5 801.9,709.4 805.5,726.5 809.1,729.1 813.2,725.2 817.3,722.9 820.9,709.4 824.5,701.9 828.4,723.4 832.4,701.3 837.0,694.2 839.7,687.4 843.3,684.3 847.3,691.1 851.4,696.9 855.0,682.9 858.4,671.4 862.9,675.3 867.0,667.3 870.2,648.4 874.2,667.3 877.8,667.8 881.9,670.3 885.5,663.7 889.4,671.7 893.5,679.8 897.5,684.3 900.5,688.3 904.3,674.4 908.3,682.5 912.4,673.2 916.0,667.3 919.6,661.0 923.5,656.0 927.6,661.9 931.6,667.8 935.2,669.6 938.6,666.5 942.5,670.9 946.7,675.4 950.8,668.3 954.4,664.1 961.5,662.0 965.5,665.6 970.0,664.1 973.0,662.0 976.6,653.0 980.7,649.1 984.9,648.2 988.5,653.4 992.4,650.3 995.6,637.4 999.6,636.3 1004.1,635.1 1007.6,639.6 1011.8,624.3 1016.6,614.4 1022.5,601.5 1026.8,603.7 1030.4,617.1 1034.6,619.8 1038.1,622.2 1041.7,624.3 1045.3,612.1 1049.3,614.4 1052.5,625.7 1056.4,627.9 1060.6,637.4 1064.1,626.1 1068.1,616.2 1071.3,617.1 1075.3,613.5 1079.4,622.5 1083.5,620.2 1087.8,621.6 1091.4,611.7 1095.0,603.7 1098.4,612.9 1102.3,607.1 1106.0,600.3 1109.1,591.1 1113.4,587.0 1117.4,602.5 1121.5,591.1 1125.2,590.2 1128.2,586.5 1132.2,578.4 1135.9,579.1 1140.0,592.3 1143.7,592.3 1147.4,598.5 1151.7,598.5 1155.4,599.7 1159.7,593.5 1163.8,590.4 1167.1,587.4 1170.8,584.3 1174.5,580.3 1178.6,582.8 1181.9,575.6 1185.6,567.3 1189.7,561.8 1193.6,554.1 1197.6,545.8 1201.6,560.2 1205.3,550.4 1208.4,538.4 1212.4,548.3 1216.5,552.0 1220.5,549.5 1224.5,536.4 1228.2,542.3 1231.9,544.6 1235.6,544.6 1239.5,531.0 1243.0,546.7 1246.4,549.5 1250.0,555.3 1256.6,554.5 1261.6,550.5 1265.7,540.4 1273.1,530.3 1280.0,534.4 1285.1,530.8 1288.5,529.8 1292.4,517.4 1296.1,514.4 1300.3,509.3 1303.6,492.2 1307.3,512.4 1311.2,512.4 1315.4,506.8 1319.1,500.6 1322.6,498.4 1326.8,502.3 1330.5,499.2 1334.4,510.2 1338.6,515.7 1341.4,498.4 1345.1,485.8 1349.0,481.6 1353.2,474.9 1357.1,468.2 1360.8,440.4 1364.5,411.5 1368.3,429.5 1372.2,404.8 1376.2,410.2 1380.1,422.8 1383.4,471.5 1387.0,476.6 1392.0,471.7 1395.6,457.7 1398.3,470.8 1401.9,441.6 1406.9,437.6 1410.5,428.3 1414.4,447.5 1418.4,459.1 1421.6,440.3 1425.7,449.8 1429.3,483.4 1433.3,480.7 1437.8,488.7 1440.4,477.4 1444.9,472.6 1448.5,462.7 1452.1,445.7 1456.2,443.4 1459.8,447.5 1463.4,447.5 1467.4,432.2 1471.3,451.1 1475.4,451.6 1478.5,466.3 1482.6,464.2 1486.7,462.4 1490.7,474.9 1494.6,465.4 1497.0,469.0 1500.0,466.0 1505.7,469.6 1509.0,486.8 1513.2,484.2 1516.5,492.4 1520.6,475.6 1524.7,486.5 1528.6,473.7 1532.6,493.0 1535.1,480.4 1539.6,489.0 1543.4,484.0 1547.5,487.4 1551.4,477.0 1554.4,480.6 1558.7,476.2 1562.8,477.3 1566.8,462.1 1571.0,458.2 1573.5,443.1 1577.4,434.1 1581.9,433.3 1585.6,434.7 1589.4,432.2 1592.8,437.8 1596.5,447.0 1600.4,451.3 1604.3,462.7 1608.5,444.8 1611.6,450.9 1615.5,438.3 1619.2,451.3 1623.4,453.2 1627.5,455.4 1631.2,465.2 1635.2,466.6 1638.5,468.5 1642.1,465.5 1646.4,458.4 1650.3,466.6 1653.6,462.5 1657.4,463.2 1660.8,478.0 1665.5,490.4 1669.5,490.1 1674.9,484.7 1680.3,480.4 1684.7,484.1 1689.0,489.9 1691.5,510.0 1695.1,541.6 1699.1,523.5 1703.5,520.1 1707.6,528.8 1710.3,549.0 1714.3,542.3 1718.6,540.3 1722.6,543.4 1726.7,542.3 1729.6,573.9 1733.4,545.6 1737.4,545.6 1741.5,529.9 1745.5,527.2 1748.6,518.3 1752.9,520.5 1756.5,520.1 1760.3,499.5 1764.3,489.0 1768.4,489.5 1771.7,490.4 1775.4,514.3 1779.1,511.3 1783.3,511.3 1786.5,519.0 1789.6,532.5" stroke="#ff9800" stroke-width="2"/></g><path d="M1296.3 670.1V723.7 M1287.1 683.1L1296.3 669.6L1305.5 683.1 M1287.1 710.7L1296.3 724.2L1305.5 710.7" stroke="#f7991c" stroke-width="2.6" fill="none"/><path d="M1509.4 638.2V772.3 M1499.8000000000002 651.2L1509.4 637.7L1519.0 651.2 M1499.8000000000002 759.3L1509.4 772.8L1519.0 759.3" stroke="#b5b7ba" stroke-width="2.6" fill="none"/><text x="1312.0 1333.6 1349.9 1358.9 1377.6 1390.0 1399.7 1412.3 1430.8 1446.8" y="708.8" font-family="DejaVu Sans" font-size="28.3" fill="#f7991c">Guld: -25%</text><text x="1525.5 1544.6 1552.1 1559.6 1576.1 1592.7 1606.0 1618.0 1627.9 1640.4 1658.6 1677.6" y="713.8" font-family="DejaVu Sans" font-size="28.6" fill="#6a8399">Silver: -50%</text><path d="M1791.5 58V868.5H8" stroke="#555" stroke-width="1" fill="none"/><path d="M1791.5 841.8H1795.0 M1791.5 812.0H1795.0 M1791.5 782.2H1795.0 M1791.5 752.4H1795.0 M1791.5 722.7H1795.0 M1791.5 692.9H1795.0 M1791.5 663.1H1795.0 M1791.5 633.3H1795.0 M1791.5 603.5H1795.0 M1791.5 573.8H1795.0 M1791.5 544.0H1795.0 M1791.5 514.2H1795.0 M1791.5 484.4H1795.0 M1791.5 454.6H1795.0 M1791.5 424.9H1795.0 M1791.5 395.1H1795.0 M1791.5 365.3H1795.0 M1791.5 335.5H1795.0 M1791.5 305.7H1795.0 M1791.5 276.0H1795.0 M1791.5 246.2H1795.0 M1791.5 216.4H1795.0 M1791.5 186.6H1795.0 M1791.5 156.8H1795.0 M1791.5 127.1H1795.0 M1791.5 97.3H1795.0 M1791.5 67.5H1795.0 M53.5 868.5V872.0 M137.5 868.5V872.0 M251.5 868.5V872.0 M334.5 868.5V872.0 M449.5 868.5V872.0 M532.5 868.5V872.0 M650.5 868.5V872.0 M730.5 868.5V872.0 M848.5 868.5V872.0 M928.5 868.5V872.0 M1046.5 868.5V872.0 M1129.5 868.5V872.0 M1244.5 868.5V872.0 M1327.5 868.5V872.0 M1441.5 868.5V872.0 M1525.5 868.5V872.0 M1643.5 868.5V872.0 M1723.5 868.5V872.0" stroke="#555" stroke-width="1" fill="none"/><g font-family="Liberation Sans" font-size="11" letter-spacing="-0.05" fill="#555"><text x="1798" y="845.8">-25.00%</text><text x="1798" y="816.0">0.00%</text><text x="1798" y="786.2">25.00%</text><text x="1798" y="756.4">50.00%</text><text x="1798" y="726.7">75.00%</text><text x="1798" y="696.9">100.00%</text><text x="1798" y="667.1">125.00%</text><text x="1798" y="637.3">150.00%</text><text x="1798" y="607.5">175.00%</text><text x="1798" y="577.8">200.00%</text><text x="1798" y="548.0">225.00%</text><text x="1798" y="518.2">250.00%</text><text x="1798" y="488.4">275.00%</text><text x="1798" y="458.6">300.00%</text><text x="1798" y="428.9">325.00%</text><text x="1798" y="399.1">350.00%</text><text x="1798" y="369.3">375.00%</text><text x="1798" y="339.5">400.00%</text><text x="1798" y="309.7">425.00%</text><text x="1798" y="280.0">450.00%</text><text x="1798" y="250.2">475.00%</text><text x="1798" y="220.4">500.00%</text><text x="1798" y="190.6">525.00%</text><text x="1798" y="160.8">550.00%</text><text x="1798" y="131.1">575.00%</text><text x="1798" y="101.3">600.00%</text><text x="1798" y="71.5">625.00%</text></g><g font-family="Liberation Sans" font-size="11" fill="#4d4d4d"><text x="53.0" y="882.8" text-anchor="middle" font-weight="bold">2005</text><text x="137.0" y="882.8" text-anchor="middle">Jun</text><text x="251.0" y="882.8" text-anchor="middle" font-weight="bold">2006</text><text x="334.0" y="882.8" text-anchor="middle">Jun</text><text x="449.0" y="882.8" text-anchor="middle" font-weight="bold">2007</text><text x="532.0" y="882.8" text-anchor="middle">Jun</text><text x="650.0" y="882.8" text-anchor="middle" font-weight="bold">2008</text><text x="730.0" y="882.8" text-anchor="middle">Jun</text><text x="848.0" y="882.8" text-anchor="middle" font-weight="bold">2009</text><text x="928.0" y="882.8" text-anchor="middle">Jun</text><text x="1046.0" y="882.8" text-anchor="middle" font-weight="bold">2010</text><text x="1129.0" y="882.8" text-anchor="middle">Jun</text><text x="1244.0" y="882.8" text-anchor="middle" font-weight="bold">2011</text><text x="1327.0" y="882.8" text-anchor="middle">Jun</text><text x="1441.0" y="882.8" text-anchor="middle" font-weight="bold">2012</text><text x="1525.0" y="882.8" text-anchor="middle">Jun</text><text x="1643.0" y="882.8" text-anchor="middle" font-weight="bold">2013</text><text x="1723.0" y="882.8" text-anchor="middle">Jun</text></g><rect x="1791" y="525.1" width="55" height="15.7" fill="#ff9800"/><path d="M1791 532.6H1794.5" stroke="#fff" stroke-width="1"/><text x="1798" y="536.9" font-family="Liberation Sans" font-size="11" font-weight="bold" letter-spacing="-0.1" fill="#fff">234.41%</text><rect x="1791" y="578.1" width="55" height="15.6" fill="#616161"/><path d="M1791 585.3H1794.5" stroke="#fff" stroke-width="1"/><text x="1798.5" y="589.8" font-family="Liberation Sans" font-size="11" font-weight="bold" letter-spacing="-0.1" fill="#fff">190.06%</text></svg>
<div class="leg" style="left:18.7px;top:66px;letter-spacing:0.5px">GC,  </div><div class="leg" style="left:50.8px;top:66px;letter-spacing:0.25px">(CFD)</div>
<div class="leg" style="left:17.3px;top:83px">SI,  </div><div class="leg" style="left:42px;top:83px;letter-spacing:0.25px">(CFD)</div>
<div class="logo"><b>Investing</b><i>.com</i></div>
<svg width="12" height="12" style="position:absolute;left:76.6px;top:830.9px"><ellipse cx="6" cy="6" rx="2.7" ry="2.15" transform="rotate(-35 6 6)" fill="#ff9f1a"/></svg>
</div></body></html>
